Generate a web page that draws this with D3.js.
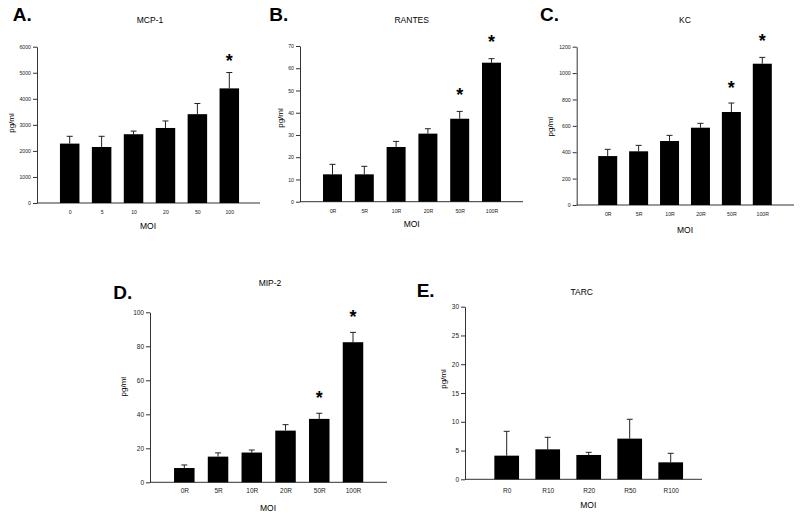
<!DOCTYPE html>
<html><head><meta charset="utf-8">
<script src="https://cdn.jsdelivr.net/npm/d3@7"></script>
<style>body{margin:0;background:#fff}svg{display:block}text{font-family:"Liberation Sans",Arial,sans-serif}</style>
</head><body>
<script>
// ---- data ----
const mcpCats = ["0","5","10","20","50","100"];
const mcpMean = [2280,2150,2640,2880,3410,4400];
const mcpErr  = [280,410,120,270,410,610];
const mcpSig  = [0,0,0,0,0,1];

const rantesCats = ["0R","5R","10R","20R","50R","100R"];
const rantesMean = [12.3,12.3,24.6,30.6,37.3,62.5];
const rantesErr  = [4.5,3.6,2.5,2.2,3.3,1.8];
const rantesSig  = [0,0,0,0,1,1];

const kcCats = ["0R","5R","10R","20R","50R","100R"];
const kcMean = [371,407,485,586,705,1071];
const kcErr  = [51,45,43,33,68,48];
const kcSig  = [0,0,0,0,1,1];

const mipCats = ["0R","5R","10R","20R","50R","100R"];
const mipMean = [8.4,15.1,17.5,30.4,37.3,82.4];
const mipErr  = [1.8,2.2,1.5,3.5,3.3,5.8];
const mipSig  = [0,0,0,0,1,1];

const tarcCats = ["R0","R10","R20","R50","R100"];
const tarcMean = [4.11,5.21,4.23,7.07,2.95];
const tarcErr  = [4.23,2.09,0.46,3.36,1.57];
const tarcSig  = [0,0,0,0,0];

const W = 800, H = 513;
const svg = d3.select("body").append("svg").attr("width", W).attr("height", H);

function panel(cfg, cats, mean, err, sig) {
  const g = svg.append("g");
  const x = d3.scalePoint().domain(cats).range([cfg.c0, cfg.c1]);
  const y = d3.scaleLinear().domain([0, cfg.max]).range([cfg.yZero, cfg.yTop]);

  // y axis
  const ya = d3.axisLeft(y).tickValues(d3.range(0, cfg.max + cfg.step / 2, cfg.step))
    .tickSize(4).tickSizeOuter(0).tickPadding(2).tickFormat(d3.format("d"));
  const yg = g.append("g").attr("transform", `translate(${cfg.x0},0)`).call(ya);
  yg.select(".domain").attr("stroke", "#333");
  yg.selectAll(".tick line").attr("stroke", "#333");
  yg.selectAll(".tick text").attr("font-size", cfg.tf).attr("fill", "#222")
    .attr("font-family", "Liberation Sans, Arial, sans-serif");

  // x axis (labels only, baseline line)
  const xa = d3.axisBottom(x).tickSize(0).tickPadding(0);
  const xg = g.append("g").attr("transform", `translate(0,${cfg.yZero})`).call(xa);
  xg.select(".domain").remove();
  xg.selectAll(".tick text").attr("font-size", cfg.tf).attr("fill", "#222")
    .attr("font-family", "Liberation Sans, Arial, sans-serif")
    .attr("dy", null).attr("y", cfg.xtY - cfg.yZero).attr("dominant-baseline", "central");
  g.append("line").attr("x1", cfg.x0).attr("x2", cfg.x1)
    .attr("y1", cfg.yZero).attr("y2", cfg.yZero).attr("stroke", "#333");

  // error bars
  cats.forEach((c, i) => {
    const cx = x(c);
    g.append("line").attr("x1", cx).attr("x2", cx)
      .attr("y1", y(mean[i])).attr("y2", y(mean[i] + err[i])).attr("stroke", "#222");
    g.append("line").attr("x1", cx - 3).attr("x2", cx + 3)
      .attr("y1", y(mean[i] + err[i])).attr("y2", y(mean[i] + err[i])).attr("stroke", "#222");
  });
  // bars
  g.selectAll("rect.bar").data(cats).join("rect").attr("class", "bar")
    .attr("x", c => x(c) - cfg.bw / 2).attr("width", cfg.bw)
    .attr("y", (c, i) => y(mean[i])).attr("height", (c, i) => cfg.yZero - y(mean[i]))
    .attr("fill", "#000");
  // asterisks
  cats.forEach((c, i) => {
    if (sig[i]) {
      g.append("text").attr("x", x(c)).attr("y", cfg.astY[i] + 10)
        .attr("text-anchor", "middle").attr("font-size", 18).attr("font-weight", "bold").text("*");
    }
  });
  // titles and labels
  g.append("text").attr("x", cfg.title[0]).attr("y", cfg.title[1]).attr("text-anchor", "middle")
    .attr("dominant-baseline", "central").attr("font-size", cfg.lf).text(cfg.name);
  g.append("text").attr("x", cfg.letter[0]).attr("y", cfg.letter[1])
    .attr("font-size", 19).attr("font-weight", "bold").text(cfg.tag);
  g.append("text").attr("transform", `translate(${cfg.ylab[0]},${cfg.ylab[1]}) rotate(-90)`)
    .attr("text-anchor", "middle").attr("dominant-baseline", "central")
    .attr("font-size", cfg.lf - 0.5).text("pg/ml");
  g.append("text").attr("x", cfg.xlab[0]).attr("y", cfg.xlab[1]).attr("text-anchor", "middle")
    .attr("dominant-baseline", "central").attr("font-size", cfg.lf).text("MOI");
}

panel({x0:37, x1:260, c0:69.7, c1:229.3, bw:19.5, yZero:203, yTop:46.7, max:6000, step:1000,
  tf:5.2, lf:8.5, xtY:212, astY:[0,0,0,0,0,57], title:[150,20], letter:[12.7,20.7],
  ylab:[11,123], xlab:[148,226], name:"MCP-1", tag:"A."}, mcpCats, mcpMean, mcpErr, mcpSig);

panel({x0:300, x1:523, c0:332.5, c1:491.5, bw:19, yZero:201.7, yTop:46, max:70, step:10,
  tf:5.2, lf:8.5, xtY:210.7, astY:[0,0,0,0,90.7,38], title:[411.7,20], letter:[269.3,20.7],
  ylab:[280,118], xlab:[411.7,224], name:"RANTES", tag:"B."}, rantesCats, rantesMean, rantesErr, rantesSig);

panel({x0:576.7, x1:794, c0:607.7, c1:762.3, bw:19, yZero:205, yTop:46.7, max:1200, step:200,
  tf:5.2, lf:8.5, xtY:214.3, astY:[0,0,0,0,84,36.7], title:[685,20], letter:[540,20.7],
  ylab:[550.7,126.7], xlab:[685,230], name:"KC", tag:"C."}, kcCats, kcMean, kcErr, kcSig);

panel({x0:150, x1:387, c0:184.3, c1:353, bw:20.5, yZero:482.3, yTop:312.3, max:100, step:20,
  tf:6.5, lf:8.5, xtY:490.7, astY:[0,0,0,0,394.3,313.3], title:[270,283.3], letter:[113.3,299.3],
  ylab:[123.3,386.7], xlab:[268,508], name:"MIP-2", tag:"D."}, mipCats, mipMean, mipErr, mipSig);

panel({x0:465, x1:702, c0:506.7, c1:670.7, bw:24.7, yZero:479.3, yTop:306.7, max:30, step:5,
  tf:6.5, lf:8.5, xtY:490.7, astY:[0,0,0,0,0,0], title:[581.7,291.7], letter:[416.7,296.7],
  ylab:[443.3,379], xlab:[588.3,505], name:"TARC", tag:"E."}, tarcCats, tarcMean, tarcErr, tarcSig);
</script>
</body></html>
